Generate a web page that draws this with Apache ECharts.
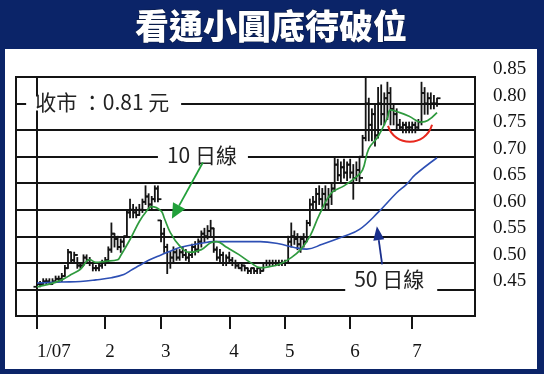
<!DOCTYPE html>
<html><head><meta charset="utf-8">
<script src="https://cdn.jsdelivr.net/npm/echarts@6/dist/echarts.min.js"></script>
<style>html,body{margin:0;padding:0;background:#0b2468;}#chart{width:544px;height:374px;}</style>
</head><body><div id="chart"></div>
<script>
const title = '看通小圓底待破位';
const monthLabels = ['1/07','2','3','4','5','6','7'];
const monthStart = [0,22,40,62,80,101,121];
const yTicks = [0.45,0.50,0.55,0.60,0.65,0.70,0.75,0.80,0.85];

const highs = [.465,.465,.47,.47,.47,.47,.475,.475,.48,.495, .525,.52,.52,.51,.50,.515,.515,.51,.50,.495,
 .50,.505,.51,.53,.575,.555,.55,.545,.55,.60, .62,.61,.605,.61,.62,.645,.63,.625,.645,.645,
 .58,.565,.535,.52,.53,.525,.525,.53,.525,.52, .535,.54,.545,.56,.565,.57,.58,.565,.53,.525,
 .52,.515,.52,.51,.505,.50,.50,.495,.49,.49, .49,.49,.49,.50,.505,.505,.505,.505,.505,.505,
 .505,.55,.575,.56,.555,.55,.555,.58,.62,.625, .64,.645,.64,.645,.64,.65,.70,.695,.69,.695,
 .69,.695,.685,.69,.70,.74,.85,.81,.79,.80, .83,.835,.82,.84,.83,.80,.79,.77,.765,.765,
 .765,.765,.765,.77,.84,.83,.82,.82,.815,.81];
const lows = [.455,.455,.46,.46,.46,.46,.465,.465,.465,.475, .49,.50,.50,.49,.49,.495,.50,.495,.485,.485,
 .485,.49,.495,.50,.52,.53,.525,.52,.53,.55, .585,.585,.585,.59,.595,.61,.60,.60,.615,.615,
 .54,.52,.48,.49,.50,.505,.505,.51,.505,.50, .51,.515,.52,.53,.54,.545,.55,.52,.505,.50,
 .495,.495,.50,.495,.49,.49,.485,.485,.48,.48, .48,.48,.48,.485,.495,.495,.495,.495,.495,.495,
 .495,.50,.53,.535,.525,.52,.53,.54,.57,.60, .60,.61,.605,.60,.60,.61,.635,.655,.65,.66,
 .655,.66,.62,.655,.65,.70,.73,.73,.73,.72, .735,.76,.76,.77,.76,.76,.75,.75,.745,.745,
 .745,.745,.745,.75,.76,.78,.78,.79,.79,.795];
const opens = [.455,.46,.46,.465,.465,.46,.465,.47,.47,.475, .49,.52,.505,.515,.495,.495,.51,.505,.50,.49,
 .49,.495,.50,.505,.525,.555,.545,.53,.54,.55, .595,.60,.595,.59,.60,.615,.625,.61,.62,.64,
 .58,.555,.53,.50,.51,.52,.51,.52,.515,.51, .515,.53,.525,.54,.555,.55,.56,.565,.525,.51,
 .515,.50,.51,.505,.50,.495,.49,.495,.49,.485, .49,.485,.49,.485,.50,.50,.50,.50,.50,.50,
 .50,.50,.54,.55,.545,.535,.545,.54,.575,.61, .615,.63,.62,.63,.61,.625,.64,.685,.665,.68,
 .67,.685,.67,.66,.675,.70,.735,.80,.76,.78, .74,.80,.78,.81,.82,.79,.78,.76,.755,.76,
 .755,.755,.76,.755,.765,.82,.80,.81,.80,.80];
const closes = [.46,.46,.465,.465,.46,.465,.47,.47,.475,.49, .52,.505,.515,.495,.495,.51,.505,.50,.49,.49,
 .495,.50,.505,.525,.555,.545,.53,.54,.55,.595, .60,.595,.59,.60,.615,.625,.61,.62,.64,.62,
 .555,.53,.50,.51,.52,.51,.52,.515,.51,.515, .53,.525,.54,.555,.55,.56,.565,.525,.51,.515,
 .50,.51,.505,.50,.495,.49,.495,.49,.485,.49, .485,.49,.485,.50,.50,.50,.50,.50,.50,.50,
 .50,.54,.55,.545,.535,.545,.54,.575,.61,.615, .63,.62,.63,.61,.625,.64,.685,.665,.68,.67,
 .685,.67,.66,.675,.66,.735,.80,.76,.78,.74, .80,.78,.81,.82,.79,.78,.76,.755,.76,.755,
 .755,.76,.755,.765,.82,.80,.81,.80,.80,.81];

// moving averages: [day index, value]
const ma10 = [[0,.455],[4,.46],[8,.468],[11,.478],[14,.488],[17,.506],[19,.501],[22,.503],[26,.506],[27,.514],
 [30,.544],[33,.578],[35,.595],[37,.606],[40,.598],[41,.585],[43,.557],[46,.532],[49,.52],[53,.525],[56,.538],
 [58,.54],[61,.53],[65,.516],[69,.50],[72,.491],[75,.493],[78,.497],[82,.51],[85,.525],[88,.55],[91,.59],
 [95,.632],[99,.645],[103,.662],[105,.675],[107,.715],[110,.738],[113,.773],[114,.788],[117,.783],[120,.776],
 [124,.765],[126,.768],[129,.783]];
const ma50 = [[0,.462],[8,.464],[14,.465],[19,.468],[24,.472],[28,.478],[30,.485],[33,.495],[36,.505],[40,.515],
 [43,.522],[46,.529],[53,.537],[57,.54],[72,.54],[78,.536],[83,.529],[87,.526],[92,.535],[99,.55],[104,.563],
 [110,.595],[116,.632],[119,.647],[122,.666],[129,.698]];

// annotation anchors in data space [day index, price]
const greenArrow = {tail:[53.5,.689], tip:[43.5,.583]};
const blueArrow = {tail:[111.3,.497], tip:[109.6,.569]};
const redArc = [[113.2,.758],[121,.728],[127.4,.76]];
const notes = [
  {text:'收市 ：0.81 元', at:[-0.6,.80], dy:-2, w:137},
  {text:'10 日線', at:[41.9,.70], dy:-2, w:72},
  {text:'50 日線', at:[102.3,.45], dy:-10, w:74}
];

const ohlc = opens.map((o,i)=>[i,o,closes[i],lows[i],highs[i]]);
const ink = '#141414';
const chart = echarts.init(document.getElementById('chart'), null, {renderer:'canvas'});
const option = {
  animation:false,
  backgroundColor:'#0b2468',
  grid:{left:16,right:69,top:77,bottom:58,show:true,borderColor:ink,borderWidth:2,backgroundColor:'transparent'},
  xAxis:{type:'value',min:-6.77,max:141.25,
    axisLine:{show:true,lineStyle:{color:ink,width:2}},
    axisTick:{show:true,customValues:monthStart,length:13,lineStyle:{color:ink,width:2}},
    axisLabel:{customValues:monthStart,formatter:v=>monthLabels[monthStart.indexOf(Math.round(v))]||'',
      align:'left',margin:27,fontFamily:'Liberation Serif',fontSize:19,color:ink},
    splitLine:{show:false}},
  yAxis:{type:'value',position:'right',min:0.40,max:0.85,interval:0.05,
    axisLine:{show:true,lineStyle:{color:ink,width:2}},
    axisTick:{show:true,customValues:yTicks,length:12,lineStyle:{color:ink,width:2}},
    axisLabel:{customValues:yTicks,formatter:v=>v.toFixed(2),margin:18,fontFamily:'Liberation Serif',
      fontSize:19,color:ink,verticalAlign:'bottom',lineHeight:16},
    splitLine:{show:true,lineStyle:{color:ink,width:2}}},
  series:[
    {type:'custom',data:ohlc,encode:{x:0,y:[1,2,3,4]},clip:false,z:3,
      renderItem:function(params,api){
        const x=api.value(0);
        const o=api.coord([x,api.value(1)]), c=api.coord([x,api.value(2)]);
        const l=api.coord([x,api.value(3)]), h=api.coord([x,api.value(4)]);
        const st={stroke:ink,lineWidth:1.8};
        return {type:'group',children:[
          {type:'line',shape:{x1:h[0],y1:h[1]-0.5,x2:l[0],y2:l[1]+0.5},style:st},
          {type:'line',shape:{x1:o[0]-3.5,y1:o[1],x2:o[0],y2:o[1]},style:st},
          {type:'line',shape:{x1:c[0],y1:c[1],x2:c[0]+3.5,y2:c[1]},style:st}
        ]};
      }},
    {type:'line',data:ma50,smooth:0.4,showSymbol:false,z:4,lineStyle:{color:'#2d4fb4',width:1.6}},
    {type:'line',data:ma10,smooth:0.4,showSymbol:false,z:5,lineStyle:{color:'#2f9a3e',width:1.7}}
  ]
};
chart.setOption(option);

const px = p => chart.convertToPixel({gridIndex:0}, p);
function arrow(a, color, headLen, headW){
  const [x1,y1]=px(a.tail),[x2,y2]=px(a.tip);
  const dx=x2-x1, dy=y2-y1, L=Math.hypot(dx,dy), ux=dx/L, uy=dy/L;
  const bx=x2-ux*headLen, by=y2-uy*headLen, nx=-uy, ny=ux;
  return [
    {type:'line',z:120,shape:{x1,y1,x2:bx,y2:by},style:{stroke:color,lineWidth:1.8}},
    {type:'polygon',z:120,shape:{points:[[x2,y2],[bx+nx*headW/2,by+ny*headW/2],[bx-nx*headW/2,by-ny*headW/2]]},style:{fill:color}}
  ];
}
const g = [
  {type:'rect',z:-100,shape:{x:5,y:49,width:532,height:320},style:{fill:'#ffffff'}},
  {type:'text',z:100,style:{text:title,x:271,y:26,align:'center',verticalAlign:'middle',
    font:'900 34px "Noto Sans CJK TC"',fill:'#ffffff',stroke:'#0a1a40',lineWidth:1}}
];
notes.forEach(n=>{
  const [x,y]=px(n.at);
  const cy=y+n.dy;
  g.push({type:'rect',z:100,shape:{x:x-9,y:(n.dy<-5? y-3 : y-7),width:n.w+18,height:(n.dy<-5?6:14)},style:{fill:'#ffffff'}});
  g.push({type:'text',z:101,style:{text:n.text,x:x,y:cy,align:'left',verticalAlign:'middle',
    font:'21px "Noto Sans CJK TC"',fill:'#222222'}});
});
g.push(...arrow(greenArrow,'#22a03a',15,14));
g.push(...arrow(blueArrow,'#1a2f8c',14,11));
{
  const p0=px(redArc[0]), pb=px(redArc[1]), p3=px(redArc[2]);
  const cpy=(8*pb[1]-p0[1]-p3[1])/6;
  const span=p3[0]-p0[0];
  g.push({type:'bezierCurve',z:110,shape:{x1:p0[0],y1:p0[1],x2:p3[0],y2:p3[1],
    cpx1:p0[0]+span*0.15,cpy1:cpy,cpx2:p3[0]-span*0.15,cpy2:cpy},
    style:{stroke:'#e8281e',lineWidth:2,fill:null}});
}
chart.setOption({graphic:g});
</script></body></html>
